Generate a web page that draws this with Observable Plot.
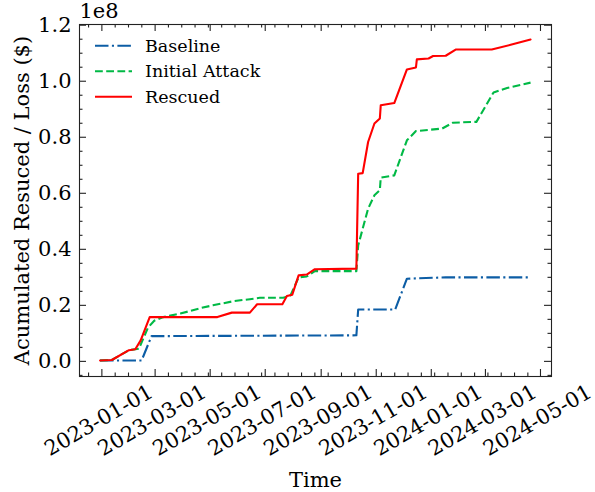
<!DOCTYPE html>
<html><head><meta charset="utf-8">
<script src="https://cdn.jsdelivr.net/npm/d3@7"></script>
<script src="https://cdn.jsdelivr.net/npm/@observablehq/plot@0.6"></script>
<style>body{margin:0;background:#fff} svg{display:block}</style>
</head><body><div id="chart"></div>
<script>
// ---- data (values in $) ----
const seriesNames = ["Baseline", "Initial Attack", "Rescued"];

const baselineDates = ["2022-12-30","2023-02-14","2023-02-25","2023-10-10","2023-10-12","2023-11-22","2023-12-05","2024-01-17","2024-04-20"];
const baselineValues = [0.003e8,0.003e8,0.090e8,0.093e8,0.185e8,0.185e8,0.295e8,0.300e8,0.300e8];

const attackDates = ["2022-12-30","2023-01-12","2023-01-31","2023-02-07","2023-02-11","2023-02-21","2023-02-28","2023-03-10","2023-03-29","2023-04-09","2023-04-20","2023-05-04","2023-05-27","2023-06-14","2023-06-25","2023-07-21","2023-07-29","2023-08-07","2023-08-16","2023-08-25","2023-10-10","2023-10-12","2023-10-23","2023-10-30","2023-11-05","2023-11-06","2023-11-21","2023-12-05","2023-12-15","2024-01-13","2024-01-25","2024-02-20","2024-03-10","2024-03-25","2024-04-20"];
const attackValues = [0.003e8,0.005e8,0.040e8,0.043e8,0.045e8,0.120e8,0.145e8,0.158e8,0.171e8,0.180e8,0.190e8,0.200e8,0.215e8,0.222e8,0.227e8,0.227e8,0.235e8,0.300e8,0.303e8,0.322e8,0.322e8,0.414e8,0.545e8,0.593e8,0.611e8,0.656e8,0.664e8,0.789e8,0.822e8,0.831e8,0.852e8,0.855e8,0.960e8,0.976e8,0.995e8];

const rescuedDates = ["2022-12-30","2023-01-12","2023-01-31","2023-02-07","2023-02-13","2023-02-23","2023-05-09","2023-05-25","2023-06-14","2023-06-22","2023-07-20","2023-07-25","2023-07-31","2023-08-07","2023-08-16","2023-08-25","2023-10-10","2023-10-12","2023-10-17","2023-10-23","2023-10-30","2023-11-05","2023-11-06","2023-11-21","2023-12-05","2023-12-15","2023-12-16","2023-12-29","2024-01-03","2024-01-17","2024-01-28","2024-03-08","2024-03-29","2024-04-20"];
const rescuedValues = [0.003e8,0.005e8,0.040e8,0.043e8,0.075e8,0.158e8,0.158e8,0.174e8,0.174e8,0.204e8,0.204e8,0.233e8,0.238e8,0.307e8,0.310e8,0.329e8,0.331e8,0.670e8,0.672e8,0.783e8,0.849e8,0.867e8,0.914e8,0.922e8,1.042e8,1.049e8,1.078e8,1.081e8,1.090e8,1.091e8,1.113e8,1.113e8,1.130e8,1.149e8];

const xTickLabels = ["2023-01-01","2023-03-01","2023-05-01","2023-07-01","2023-09-01","2023-11-01","2024-01-01","2024-03-01","2024-05-01"];
const yTickValues = [0, 0.2e8, 0.4e8, 0.6e8, 0.8e8, 1.0e8, 1.2e8];
const yTickLabels = ["0.0","0.2","0.4","0.6","0.8","1.0","1.2"];
const yOffsetLabel = "1e8";
const xLabel = "Time";
const yLabel = "Acumulated Resuced / Loss ($)";

// ---- build ----
const parse = d3.utcParse("%Y-%m-%d");
const rows = (dates, values) => dates.map((d, i) => ({date: parse(d), value: values[i]}));
const baselineRows = rows(baselineDates, baselineValues);
const attackRows = rows(attackDates, attackValues);
const rescuedRows = rows(rescuedDates, rescuedValues);

const W = 595, H = 492, mL = 79, mR = 44, mT = 24, mB = 116;
const frameW = W - mL - mR, frameH = H - mT - mB;
const xDomain = [new Date("2022-12-07T05:00:00Z"), new Date("2024-05-13T05:00:00Z")];
const yDomain = [-0.054e8, 1.2025e8];

const xMajor = xTickLabels.map(parse);
const DAY = 864e5;
const minorStep = (xMajor[1] - xMajor[0]) / 4;
const xMinor = d3.range(-4, 40).map(k => new Date(+xMajor[0] + k * minorStep))
  .filter(d => d > xDomain[0] && d < xDomain[1] && !xMajor.some(m => Math.abs(m - d) < DAY));
const yMinor = d3.range(-1, 25).map(k => k * 0.05e8)
  .filter(v => v > yDomain[0] && v < yDomain[1] && !yTickValues.some(t => Math.abs(t - v) < 1));

const black = "#222";
const fontFamily = "DejaVu Serif";
const tickFont = 21, labelFont = 21, legendFont = 17.5;

const chart = Plot.plot({
  width: W, height: H,
  marginLeft: mL, marginRight: mR, marginTop: mT, marginBottom: mB,
  style: {fontFamily, fontSize: tickFont + "px", color: "#000", background: "#fff"},
  x: {type: "utc", domain: xDomain, axis: null},
  y: {domain: yDomain, axis: null},
  marks: [
    Plot.line(baselineRows, {x: "date", y: "value", stroke: "#0C5DA5", strokeWidth: 2.1, strokeDasharray: "13.5,3.4,2.1,3.4", strokeLinecap: "butt"}),
    Plot.line(attackRows, {x: "date", y: "value", stroke: "#00B945", strokeWidth: 2.1, strokeDasharray: "7.8,3.4", strokeLinecap: "butt"}),
    Plot.line(rescuedRows, {x: "date", y: "value", stroke: "#FF0000", strokeWidth: 2.1}),
    Plot.frame({stroke: black, strokeWidth: 1.1}),
    Plot.tickX(xMajor, {x: d => d, insetTop: frameH - 7, stroke: black, strokeWidth: 1.1}),
    Plot.tickX(xMajor, {x: d => d, insetBottom: frameH - 7, stroke: black, strokeWidth: 1.1}),
    Plot.tickX(xMinor, {x: d => d, insetTop: frameH - 3.5, stroke: black, strokeWidth: 1.1}),
    Plot.tickX(xMinor, {x: d => d, insetBottom: frameH - 3.5, stroke: black, strokeWidth: 1.1}),
    Plot.tickY(yTickValues, {y: d => d, insetRight: frameW - 7, stroke: black, strokeWidth: 1.1}),
    Plot.tickY(yTickValues, {y: d => d, insetLeft: frameW - 7, stroke: black, strokeWidth: 1.1}),
    Plot.tickY(yMinor, {y: d => d, insetRight: frameW - 3.5, stroke: black, strokeWidth: 1.1}),
    Plot.tickY(yMinor, {y: d => d, insetLeft: frameW - 3.5, stroke: black, strokeWidth: 1.1}),
    Plot.text(xMajor, {x: d => d, frameAnchor: "bottom", dx: -3, dy: 44, rotate: -30, text: (d, i) => xTickLabels[i], textAnchor: "middle", lineAnchor: "middle", fontSize: tickFont, fill: "#000"}),
    Plot.text(yTickValues, {y: d => d, frameAnchor: "left", dx: -8, textAnchor: "end", lineAnchor: "middle", text: (d, i) => yTickLabels[i], fontSize: tickFont, fill: "#000"}),
    Plot.text([yOffsetLabel], {frameAnchor: "top-left", dy: -13, textAnchor: "start", lineAnchor: "middle", text: d => d, fontSize: tickFont, fill: "#000"}),
    Plot.text([xLabel], {frameAnchor: "bottom", dy: 104, textAnchor: "middle", lineAnchor: "middle", text: d => d, fontSize: labelFont, fill: "#000"}),
    Plot.text([yLabel], {frameAnchor: "left", dx: -57, rotate: -90, textAnchor: "middle", lineAnchor: "middle", text: d => d, fontSize: labelFont, fill: "#000"})
  ]
});

// legend (upper left, no frame)
const svg = d3.select(chart);
const legendItems = [
  {name: seriesNames[0], stroke: "#0C5DA5", dash: "13.5,3.4,2.1,3.4"},
  {name: seriesNames[1], stroke: "#00B945", dash: "7.8,3.4"},
  {name: seriesNames[2], stroke: "#FF0000", dash: null}
];
const lg = svg.append("g").attr("font-family", fontFamily).attr("font-size", legendFont + "px").attr("text-anchor", "start");
legendItems.forEach((it, i) => {
  const y = 45.7 + i * 25.5;
  lg.append("line").attr("x1", 95).attr("x2", 132).attr("y1", y).attr("y2", y)
    .attr("stroke", it.stroke).attr("stroke-width", 2.1).attr("stroke-dasharray", it.dash);
  lg.append("text").attr("x", 145).attr("y", y).attr("dy", "0.35em").attr("fill", "#000").attr("text-anchor", "start").text(it.name);
});

document.getElementById("chart").appendChild(chart);
</script>
</body></html>
